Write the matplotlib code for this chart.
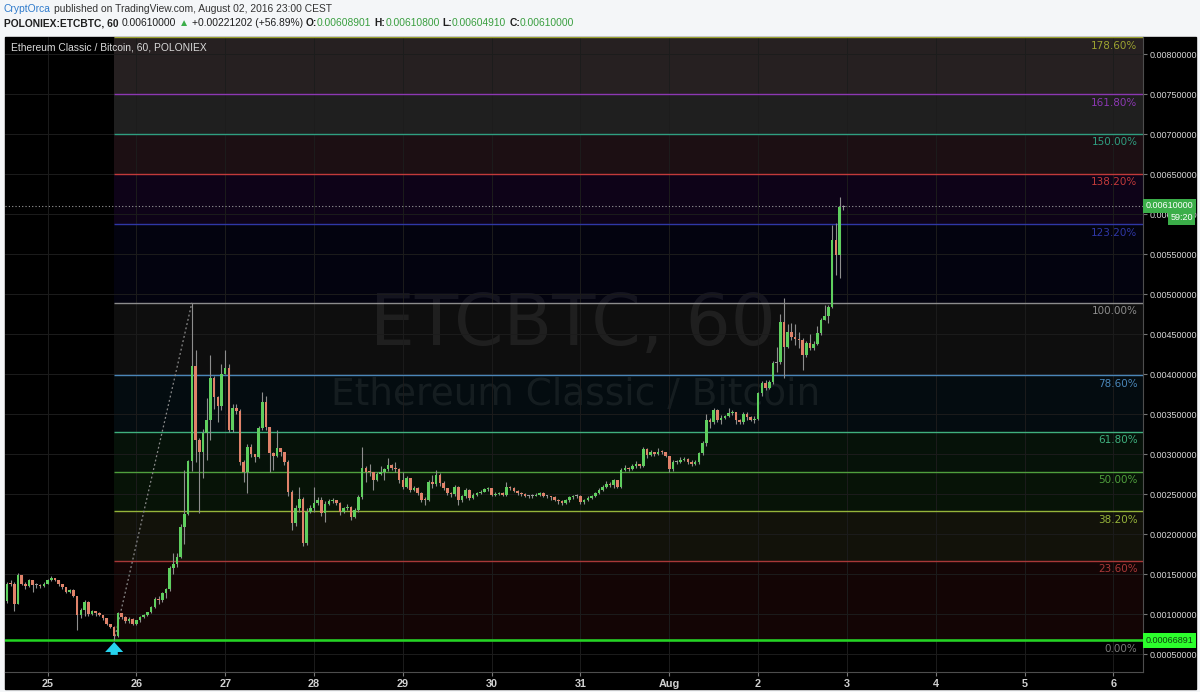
import matplotlib.pyplot as plt
from matplotlib.patches import Rectangle
from matplotlib.transforms import blended_transform_factory
import numpy as np

# velas de 60 min ETC/BTC (Poloniex), precos em 1e-5 BTC
# hora 0 = 25/07 00:00 ; primeira vela na hora -11 (24/07 13:00)
hora_inicio = -11
abertura_inicial = 116

fechamento = [
    138, 137, 113, 149, 138, 135, 142, 136, 136, 135, 138,  # 24/07
    142, 145, 143, 137, 134, 128, 130, 122, 99, 105, 115, 100, 104, 101, 99, 95, 87, 84, 72, 101, 96, 91, 94, 88,  # 25
    92, 96, 99, 102, 109, 119, 117, 126, 131, 158, 162, 171, 209, 225, 291, 410, 318, 302, 326, 342, 395, 371, 360, 400,  # 26
    408, 330, 358, 354, 290, 277, 309, 300, 296, 332, 365, 334, 301, 298, 307, 302, 290, 252, 214, 232, 244, 189, 228, 232,  # 27
    239, 243, 226, 238, 241, 242, 239, 228, 232, 234, 221, 230, 246, 282, 278, 277, 268, 275, 278, 281, 286, 283, 281, 268,  # 28
    259, 270, 255, 258, 251, 243, 242, 265, 262, 274, 264, 257, 251, 250, 259, 243, 247, 255, 245, 249, 251, 253, 256, 257,  # 29
    249, 250, 251, 249, 259, 258, 254, 251, 250, 248, 247, 248, 249, 251, 248, 247, 246, 243, 241, 239, 242, 246, 247, 248,  # 30
    240, 242, 245, 247, 251, 255, 259, 263, 261, 267, 259, 280, 283, 281, 285, 287, 285, 306, 299, 302, 300, 303, 302, 298,  # 31
    281, 290, 290, 293, 294, 290, 288, 290, 301, 314, 342, 340, 355, 343, 345, 347, 351, 352, 343, 340, 350, 346, 343, 344,  # 01/08
    376, 389, 383, 390, 414, 415, 465, 434, 452, 446, 444, 442, 424, 439, 433, 438, 451, 468, 472, 484, 568, 549, 609, 610,  # 02/08
]
maxima = [
    140, 143, 140, 151, 149, 140, 144, 142, 139, 138, 140,
    144, 148, 145, 143, 138, 134, 131, 131, 123, 107, 117, 116, 105, 104, 102, 99, 95, 88, 85, 103, 101, 97, 96, 95,
    93, 97, 100, 103, 110, 121, 122, 128, 133, 160, 176, 176, 212, 280, 293, 489, 430, 320, 331, 370, 424, 398, 373, 412,
    430, 412, 362, 362, 356, 292, 312, 312, 300, 335, 377, 372, 334, 302, 330, 308, 303, 292, 255, 236, 259, 246, 232, 236,
    259, 246, 246, 241, 244, 245, 243, 240, 234, 237, 235, 232, 249, 309, 285, 288, 278, 278, 285, 283, 295, 288, 290, 283,
    278, 272, 270, 260, 259, 252, 246, 267, 274, 280, 276, 266, 258, 253, 261, 260, 249, 257, 256, 251, 253, 255, 258, 259,
    258, 252, 253, 252, 265, 260, 259, 255, 252, 251, 249, 250, 251, 253, 252, 249, 248, 247, 244, 242, 244, 248, 249, 250,
    249, 244, 247, 249, 253, 257, 261, 266, 265, 269, 268, 282, 286, 284, 288, 291, 288, 309, 307, 305, 303, 307, 305, 303,
    298, 292, 293, 296, 296, 295, 292, 293, 303, 316, 350, 345, 357, 356, 349, 349, 358, 355, 353, 344, 352, 352, 348, 347,
    378, 391, 392, 392, 416, 434, 475, 495, 463, 464, 462, 452, 445, 441, 450, 441, 460, 470, 486, 486, 586, 589, 621, 610.8,
]
minima = [
    114, 135, 104, 112, 136, 131, 134, 128, 133, 133, 134,
    138, 141, 141, 135, 131, 126, 126, 121, 80, 95, 98, 98, 99, 98, 97, 93, 86, 82, 67, 71, 94, 89, 89, 86,
    86, 90, 95, 98, 101, 107, 113, 115, 120, 129, 150, 159, 170, 188, 224, 279, 290, 226, 270, 292, 318, 356, 340, 355,
    400, 328, 328, 350, 286, 265, 251, 296, 290, 295, 330, 330, 277, 280, 296, 298, 286, 248, 205, 210, 228, 185, 186, 226,
    228, 236, 222, 215, 236, 239, 236, 224, 226, 230, 218, 220, 228, 244, 265, 272, 255, 266, 274, 268, 279, 280, 278, 264,
    256, 257, 253, 254, 249, 240, 236, 241, 258, 260, 260, 255, 249, 246, 248, 236, 240, 245, 243, 244, 248, 250, 252, 254,
    247, 248, 249, 247, 248, 255, 252, 249, 248, 246, 245, 245, 247, 248, 246, 245, 243, 241, 238, 236, 238, 240, 244, 245,
    238, 238, 241, 244, 246, 250, 254, 258, 259, 258, 257, 258, 279, 279, 280, 283, 282, 284, 295, 297, 298, 299, 300, 296,
    277, 279, 287, 289, 291, 288, 285, 286, 288, 299, 310, 332, 338, 340, 338, 344, 346, 349, 337, 338, 338, 343, 341, 339,
    343, 372, 380, 381, 388, 402, 413, 395, 432, 443, 436, 432, 405, 421, 430, 430, 436, 449, 468, 464, 482, 524, 520, 604.9,
]

dias_horas = [0, 24, 48, 72, 96, 120, 144, 168, 192, 216, 240, 264, 288]
dias_rotulos = ['25', '26', '27', '28', '29', '30', '31', 'Aug', '2', '3', '4', '5', '6']
precos_eixo = [0.0005, 0.001, 0.0015, 0.002, 0.0025, 0.003, 0.0035, 0.004,
               0.0045, 0.005, 0.0055, 0.006, 0.0065, 0.007, 0.0075, 0.008]

# retracao de fibonacci
fib_fundo = 0.00066891
fib_topo = 0.00489
fib_hora_fundo = 18
fib_hora_topo = 39
fib_niveis = [0.0, 0.236, 0.382, 0.5, 0.618, 0.786, 1.0, 1.232, 1.382, 1.5, 1.618, 1.786]
fib_cores = ['#7a7a7a', '#a83838', '#95b43a', '#4f9f3d', '#3fb07e', '#4a86b8',
             '#8c8c8c', '#2f37a6', '#c23a3a', '#2f9e80', '#8c38b3', '#9ca330']
fib_fundos = ['#130505', '#12120a', '#071307', '#061209', '#040c10', '#0e0e0e',
              '#03030f', '#0e0318', '#1c0f13', '#1f1f1f', '#262021']

ultimo_preco = 0.0061
tempo_restante = '59:20'

FONTE = 'Liberation Sans'
verde = '#5fcf5f'
vermelho = '#e0826a'

W, H = 1200, 692
fig = plt.figure(figsize=(W / 100, H / 100), dpi=100, facecolor='#f4f6f8')
fig.add_artist(Rectangle((5 / W, 1 - 689 / H), 1191 / W, 652 / H,
                         transform=fig.transFigure, color='black', zorder=0))
ax = fig.add_axes([5 / W, 1 - 672 / H, 1138 / W, 635 / H])
ax.set_facecolor('black')
x_min, x_max = -11.5, 296
ax.set_xlim(x_min, x_max)
ax.set_ylim(0.000275, 0.0082125)
ax.set_axisbelow(True)

# faixas e linhas da fibonacci
faixa = fib_topo - fib_fundo
for i in range(len(fib_niveis) - 1):
    lo = fib_fundo + fib_niveis[i] * faixa
    hi = fib_fundo + fib_niveis[i + 1] * faixa
    ax.fill_between([fib_hora_fundo, x_max], lo, hi, color=fib_fundos[i], lw=0, zorder=0.1)

trans = blended_transform_factory(ax.transAxes, ax.transData)
for nivel, cor in zip(fib_niveis, fib_cores):
    p = fib_fundo + nivel * faixa
    ax.hlines(p, fib_hora_fundo, x_max, color=cor, lw=1, zorder=1)
    ax.annotate(f'{nivel * 100:.2f}%', xy=(1, p), xycoords=trans, xytext=(-4, -2.5),
                textcoords='offset points', ha='right', va='top', color=cor, fontsize=7.5)

# marca d'agua
ax.text(0.499, 0.545, 'ETCBTC, 60', transform=ax.transAxes, ha='center', va='center',
        fontsize=51, color='white', alpha=0.07, zorder=0.3, family='DejaVu Sans')
ax.text(0.501, 0.436, 'Ethereum Classic / Bitcoin', transform=ax.transAxes, ha='center',
        va='center', fontsize=27, color='white', alpha=0.07, zorder=0.3, family='DejaVu Sans')

# velas
c = np.array(fechamento) * 1e-5
o = np.array([abertura_inicial] + fechamento[:-1]) * 1e-5
h = np.maximum(np.array(maxima) * 1e-5, np.maximum(o, c))
l = np.minimum(np.array(minima) * 1e-5, np.minimum(o, c))
x = np.arange(hora_inicio, hora_inicio + len(c))
cores = np.where(np.abs(c - o) <= 1e-5, '#9a9a9a', np.where(c > o, verde, vermelho))
ax.vlines(x, l, h, color='#8e8e8e', lw=0.8, zorder=3)
ax.bar(x, np.maximum(np.abs(c - o), 0.000012), bottom=np.minimum(o, c), width=0.7,
       color=cores, linewidth=0, zorder=4)

# linha do fundo, preco atual e diagonal
ax.axhline(fib_fundo, color='#22d622', lw=1.8, zorder=2)
ax.axhline(ultimo_preco, color='#9a9a9a', lw=0.8, ls=(0, (1, 2)), zorder=2)
ax.plot([fib_hora_fundo, fib_hora_topo], [fib_fundo, fib_topo], color='#8a8a8a',
        lw=0.9, ls=(0, (1.5, 2)), zorder=2)
ax.annotate('', xy=(fib_hora_fundo, fib_fundo - 0.00002), xytext=(fib_hora_fundo, fib_fundo - 0.00018),
            arrowprops=dict(arrowstyle='simple,head_length=0.55,head_width=1.0,tail_width=0.4',
                            color='#27d3ee', lw=0, shrinkA=0, shrinkB=0, mutation_scale=13),
            zorder=6)

# eixos
ax.yaxis.tick_right()
ax.set_yticks(precos_eixo)
ax.set_yticklabels([f'{p:.8f}' for p in precos_eixo], family=FONTE)
ax.set_xticks(dias_horas)
ax.set_xticklabels(dias_rotulos, family=FONTE, fontweight='bold')
ax.tick_params(axis='y', colors='#777777', labelcolor='#d8d8d8', labelsize=6.5, length=3, pad=2)
ax.tick_params(axis='x', colors='#777777', labelcolor='#d0d0d0', labelsize=7.8, length=3, pad=2)
ax.grid(True, color='#1c1c1c', lw=0.7)
for lado in ['top', 'left']:
    ax.spines[lado].set_visible(False)
for lado in ['right', 'bottom']:
    ax.spines[lado].set_color('#4d4d4d')

ax.text(1.002, fib_fundo, f'{fib_fundo:.8f}', transform=trans, ha='left', va='center',
        fontsize=6.5, color='#104010', family=FONTE, zorder=10, clip_on=False,
        bbox=dict(boxstyle='square,pad=0.3', fc='#2cff2c', ec='none'))
ax.text(1.002, ultimo_preco, f'{ultimo_preco:.8f}', transform=trans, ha='left', va='center',
        fontsize=6.5, color='white', family=FONTE, zorder=10, clip_on=False,
        bbox=dict(boxstyle='square,pad=0.3', fc='#3bae49', ec='none'))
ax.annotate(tempo_restante, xy=(1, ultimo_preco), xycoords=trans, xytext=(36, -8.5),
            textcoords='offset points', ha='right', va='center', fontsize=6.5, color='white',
            family=FONTE, zorder=10, annotation_clip=False,
            bbox=dict(boxstyle='square,pad=0.25', fc='#3bae49', ec='none'))

ax.text(0.005, 0.984, 'Ethereum Classic / Bitcoin, 60, POLONIEX', transform=ax.transAxes,
        ha='left', va='center', fontsize=7.4, color='#dadada', family=FONTE, zorder=10)

# cabecalho com partes coloridas
r = fig.canvas.get_renderer()


def largura(txt, **kw):
    t = fig.text(0, 0, txt, **kw)
    w = t.get_window_extent(renderer=r).width
    t.remove()
    return w


def escreve(partes, x0, y0, tam):
    xp = x0
    for txt, cor, peso in partes:
        kw = dict(fontsize=tam, fontweight=peso, family=[FONTE, 'DejaVu Sans'])
        esp = largura('a a', **kw) - largura('aa', **kw)
        nl = len(txt) - len(txt.lstrip(' '))
        nt = len(txt) - len(txt.rstrip(' '))
        xp += nl * esp
        t = fig.text(xp / W, 1 - y0 / H, txt.strip(' '), color=cor, va='center', ha='left', **kw)
        xp += t.get_window_extent(renderer=r).width + nt * esp


escreve([('CryptOrca', '#2f7bcc', 'normal'),
          (' published on TradingView.com, August 02, 2016 23:00 CEST', '#333333', 'normal')],
         4, 9, 7.4)
vd = '#3a9f40'
escreve([('POLONIEX:ETCBTC, 60', '#1e1e1e', 'bold'), (' 0.00610000 ', '#1e1e1e', 'normal'),
         ('▲', '#3bae49', 'normal'), (' +0.00221202 (+56.89%) ', '#1e1e1e', 'normal'),
         ('O:', '#1e1e1e', 'bold'), ('0.00608901', vd, 'normal'),
         (' H:', '#1e1e1e', 'bold'), ('0.00610800', vd, 'normal'),
         (' L:', '#1e1e1e', 'bold'), ('0.00604910', vd, 'normal'),
         (' C:', '#1e1e1e', 'bold'), ('0.00610000', vd, 'normal')],
        4, 23, 7.4)

fig.savefig('out.png', dpi=100, facecolor=fig.get_facecolor())
